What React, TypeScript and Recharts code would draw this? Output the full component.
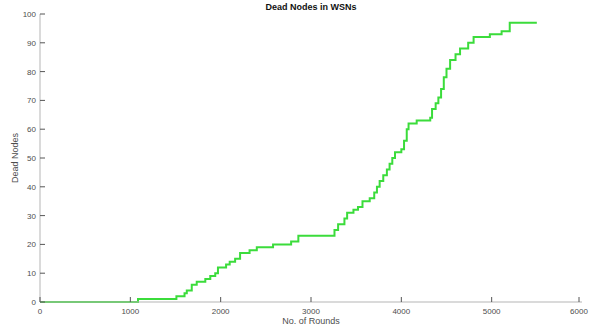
import React from 'react';
import { LineChart, Line, XAxis, YAxis } from 'recharts';

// rounds at which the dead-node count changes
const rounds = [
  0, 1085, 1510, 1600, 1625, 1680, 1735, 1830, 1885, 1940, 1970, 2060, 2100, 2160, 2215,
  2320, 2400, 2580, 2780, 2860, 3260, 3300, 3370, 3400, 3470, 3520, 3570, 3650, 3700,
  3730, 3760, 3800, 3840, 3870, 3900, 3930, 4000, 4030, 4060, 4080, 4170, 4320, 4340,
  4380, 4410, 4440, 4470, 4500, 4540, 4600, 4650, 4740, 4800, 4980, 5110, 5200, 5500,
];
const deadNodes = [
  0, 1, 2, 3, 4, 6, 7, 8, 9, 10, 12, 13, 14, 15, 17,
  18, 19, 20, 21, 23, 25, 27, 29, 31, 32, 33, 35, 36, 38,
  40, 42, 44, 46, 48, 50, 52, 53, 56, 60, 62, 63, 64, 67,
  69, 71, 74, 78, 81, 84, 86, 88, 90, 92, 93, 94, 97, 97,
];
const xTicks = [0, 1000, 2000, 3000, 4000, 5000, 6000];
const yTicks = [0, 10, 20, 30, 40, 50, 60, 70, 80, 90, 100];

const data = rounds.map((r, i) => ({ round: r, dead: deadNodes[i] }));

const FONT = 'Liberation Sans, Arial, sans-serif';
const LABEL = '#4d4d4d';

const BottomTick = (props: any) => {
  const { x, y, payload } = props;
  return (
    <g>
      <line x1={x} x2={x} y1={y} y2={y - 5} stroke="#555" />
      <text x={x} y={y + 12} textAnchor="middle" fontSize={8} fill={LABEL} fontFamily={FONT}>
        {payload.value}
      </text>
    </g>
  );
};

const TopTick = (props: any) => {
  const { x, y } = props;
  return <line x1={x} x2={x} y1={y} y2={y + 5} stroke="#555" />;
};

const LeftTick = (props: any) => {
  const { x, y, payload } = props;
  return (
    <g>
      <line x1={x} x2={x + 5} y1={y} y2={y} stroke="#555" />
      <text x={x - 4} y={y + 3} textAnchor="end" fontSize={8} fill={LABEL} fontFamily={FONT}>
        {payload.value}
      </text>
    </g>
  );
};

const RightTick = (props: any) => {
  const { x, y } = props;
  return <line x1={x} x2={x - 5} y1={y} y2={y} stroke="#555" />;
};

export default function App() {
  return (
    <div style={{ position: 'absolute', left: 0, top: 0, width: 595, height: 329, background: '#fff' }}>
      <LineChart width={595} height={329} data={data} margin={{ top: 14, right: 13, bottom: 0, left: 0 }}>
        <XAxis
          xAxisId="b"
          dataKey="round"
          type="number"
          domain={[0, 6000]}
          ticks={xTicks}
          height={27}
          tickSize={0}
          tickMargin={0}
          tick={<BottomTick />}
          tickLine={false}
          axisLine={{ stroke: '#b5b5b5' }}
        />
        <XAxis
          xAxisId="t"
          orientation="top"
          dataKey="round"
          type="number"
          domain={[0, 6000]}
          ticks={xTicks}
          height={0}
          tickSize={0}
          tickMargin={0}
          tick={<TopTick />}
          tickLine={false}
          axisLine={{ stroke: '#6a6a6a' }}
        />
        <YAxis
          yAxisId="l"
          type="number"
          domain={[0, 100]}
          ticks={yTicks}
          width={40}
          tickSize={0}
          tickMargin={0}
          tick={<LeftTick />}
          tickLine={false}
          axisLine={{ stroke: '#b5b5b5' }}
        />
        <YAxis
          yAxisId="r"
          orientation="right"
          type="number"
          domain={[0, 100]}
          ticks={yTicks}
          width={0}
          tickSize={0}
          tickMargin={0}
          tick={<RightTick />}
          tickLine={false}
          axisLine={{ stroke: '#5a5a5a' }}
        />
        <Line
          xAxisId="b"
          yAxisId="l"
          type="stepAfter"
          dataKey="dead"
          stroke="#3bdc3b"
          strokeWidth={2}
          dot={false}
          isAnimationActive={false}
        />
        <text x={311} y={10} textAnchor="middle" fontSize={9} fontWeight="bold" fill="#111" fontFamily={FONT}>
          Dead Nodes in WSNs
        </text>
        <text x={311} y={324} textAnchor="middle" fontSize={9} fill={LABEL} fontFamily={FONT}>
          No. of Rounds
        </text>
        <text
          x={18}
          y={158}
          textAnchor="middle"
          fontSize={9}
          fill={LABEL}
          fontFamily={FONT}
          transform="rotate(-90 18 158)"
        >
          Dead Nodes
        </text>
      </LineChart>
    </div>
  );
}
